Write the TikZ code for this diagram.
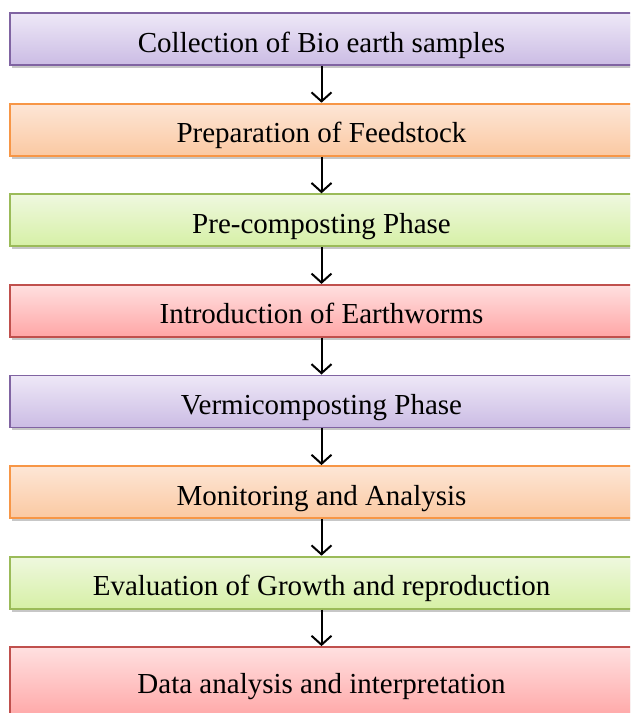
\documentclass[tikz,border=0pt]{standalone}
\usepackage{fontspec}
\setmainfont{Liberation Serif}
\usetikzlibrary{shadows,arrows.meta}
\definecolor{pB}{HTML}{8064A2}\definecolor{pT}{HTML}{EEE8F7}\definecolor{pBo}{HTML}{CBBCE4}
\definecolor{oB}{HTML}{F79646}\definecolor{oT}{HTML}{FDE6D6}\definecolor{oBo}{HTML}{FBC9A2}
\definecolor{gB}{HTML}{9BBB59}\definecolor{gT}{HTML}{EFF8DF}\definecolor{gBo}{HTML}{D6F0A6}
\definecolor{rB}{HTML}{C0504D}\definecolor{rT}{HTML}{FFE0E0}\definecolor{rBo}{HTML}{FFA6A6}
\tikzset{
  stepbox/.style={rectangle, minimum width=623pt, minimum height=52pt, line width=1.8pt,
    font=\fontsize{29}{33}\selectfont, text=black, inner sep=0pt,
    text height=26pt, text depth=0pt,
    drop shadow={shadow xshift=1.5pt, shadow yshift=-3pt, opacity=0.22, fill=black}},
  purp/.style={stepbox, draw=pB, top color=pT, bottom color=pBo},
  oran/.style={stepbox, draw=oB, top color=oT, bottom color=oBo},
  gree/.style={stepbox, draw=gB, top color=gT, bottom color=gBo},
  redb/.style={stepbox, draw=rB, top color=rT, bottom color=rBo},
  flow/.style={-{Straight Barb[length=9pt,width=20pt,line width=2pt]}, line width=2pt, black}
}
\begin{document}
\begin{tikzpicture}[x=1pt,y=-1pt]
\useasboundingbox (0,0) rectangle (630,713);
\clip (0,0) rectangle (630,713);
\node[purp] (b1) at (321.5,39) {Collection of Bio earth samples};
\node[oran] (b2) at (321.5,129.6) {Preparation of Feedstock};
\node[gree] (b3) at (321.5,220.2) {Pre-composting Phase};
\node[redb] (b4) at (321.5,310.8) {Introduction of Earthworms};
\node[purp] (b5) at (321.5,401.4) {Vermicomposting Phase};
\node[oran] (b6) at (321.5,492) {Monitoring and Analysis};
\node[gree] (b7) at (321.5,582.6) {Evaluation of Growth and reproduction};
\node[redb, minimum height=72pt, text height=20pt] (b8) at (321.5,683) {Data analysis and interpretation};
\foreach \a/\b in {b1/b2,b2/b3,b3/b4,b4/b5,b5/b6,b6/b7,b7/b8}
  \draw[flow] (\a.south) -- (\b.north);
\end{tikzpicture}
\end{document}
